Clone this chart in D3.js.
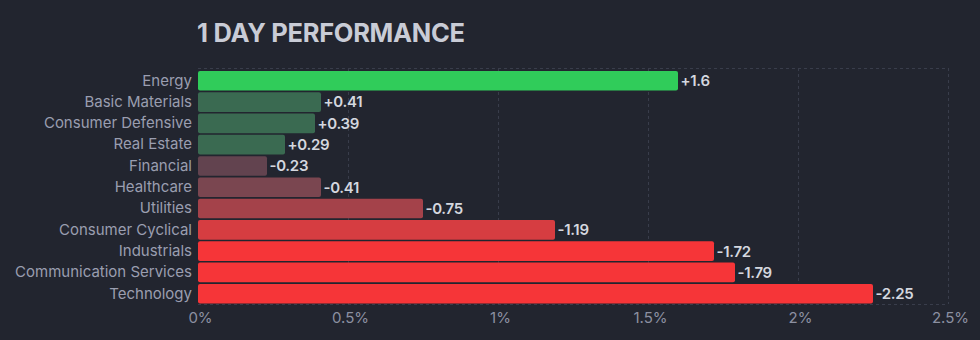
<!DOCTYPE html>
<html><head><meta charset="utf-8">
<script src="https://cdn.jsdelivr.net/npm/d3@7"></script>
<style>
html,body{margin:0;padding:0;background:#22252f;}
svg{display:block;font-family:Inter,"Noto Sans",sans-serif;}
</style></head>
<body>
<svg id="c" width="980" height="340"></svg>
<script>
const categories = ["Energy","Basic Materials","Consumer Defensive","Real Estate","Financial","Healthcare","Utilities","Consumer Cyclical","Industrials","Communication Services","Technology"];
const values = [1.6, 0.41, 0.39, 0.29, -0.23, -0.41, -0.75, -1.19, -1.72, -1.79, -2.25];
const valueLabels = ["+1.6","+0.41","+0.39","+0.29","-0.23","-0.41","-0.75","-1.19","-1.72","-1.79","-2.25"];
const barColors = ["#30cc5a","#3a6a51","#3a6a51","#3a6a51","#62434f","#7a4650","#a4424a","#d63d41","#f63538","#f63538","#f63538"];
const ticks = [0, 0.5, 1, 1.5, 2, 2.5];
const tickLabels = ["0%","0.5%","1%","1.5%","2%","2.5%"];
const title = "1 DAY PERFORMANCE";

const svg = d3.select("#c");
const W = 980, H = 340;
const plot = {left:198, right:948, top:68, bottom:304};
const x = d3.scaleLinear().domain([0, 2.5]).range([plot.left, plot.right]);
const y = d3.scaleBand().domain(categories).range([71, 303.5]).paddingInner(0.08).paddingOuter(0);

svg.append("rect").attr("width", W).attr("height", H).attr("fill", "#22252f");

svg.append("text").attr("x", plot.left - 1).attr("y", 41.5).text(title)
  .attr("fill", "#c9ccd6").attr("font-size", 25.5).attr("font-weight", 700).attr("letter-spacing", -0.3);

// grid
const g = svg.append("g");
g.selectAll("line.v").data(ticks.slice(1)).join("line")
  .attr("x1", d => x(d) + 0.5).attr("x2", d => x(d) + 0.5)
  .attr("y1", plot.top).attr("y2", plot.bottom)
  .attr("stroke", "#393d4b").attr("stroke-dasharray", "3,3");
[plot.top, plot.bottom].forEach(yy => {
  g.append("line").attr("x1", plot.left).attr("x2", plot.right).attr("y1", yy + 0.5).attr("y2", yy + 0.5)
    .attr("stroke", "#393d4b").attr("stroke-dasharray", "3,3");
});

// bars
svg.append("g").selectAll("rect").data(categories).join("rect")
  .attr("x", x(0))
  .attr("y", d => y(d))
  .attr("width", (d, i) => x(Math.abs(values[i])) - x(0))
  .attr("height", y.bandwidth())
  .attr("rx", 2)
  .attr("fill", (d, i) => barColors[i]);

// value labels
svg.append("g").selectAll("text").data(categories).join("text")
  .attr("x", (d, i) => x(Math.abs(values[i])) + 2.5)
  .attr("y", d => y(d) + y.bandwidth() / 2)
  .attr("dy", "0.36em")
  .attr("fill", "#d4d7df").attr("font-size", 15).attr("font-weight", 600).attr("letter-spacing", -0.3)
  .text((d, i) => valueLabels[i]);

// category axis
const ya = d3.axisLeft(y).tickSize(0).tickPadding(6);
svg.append("g").attr("transform", `translate(${plot.left},0)`).call(ya)
  .call(s => s.select(".domain").remove())
  .call(s => s.selectAll("text").attr("fill", "#9a9eb0").attr("font-size", 15).attr("font-family", "Inter,'Noto Sans',sans-serif"));

// x axis
const xa = d3.axisBottom(x).tickValues(ticks).tickFormat((d, i) => tickLabels[i]).tickSize(0).tickPadding(8);
svg.append("g").attr("transform", `translate(2,${plot.bottom})`).call(xa)
  .call(s => s.select(".domain").remove())
  .call(s => s.selectAll("text").attr("fill", "#8c90a1").attr("font-size", 15).attr("font-family", "Inter,'Noto Sans',sans-serif"));
</script>
</body></html>
